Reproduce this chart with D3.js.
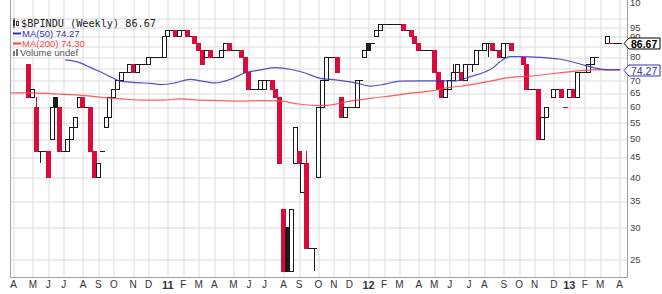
<!DOCTYPE html>
<html>
<head>
<meta charset="utf-8">
<script src="https://cdnjs.cloudflare.com/ajax/libs/d3/7.8.5/d3.min.js"></script>
<style>
  body { margin: 0; background: #fff; }
  svg { display: block; }
  .tick text { font-family: "Liberation Sans", Arial, sans-serif; }
</style>
</head>
<body>
<div id="chart"></div>
<script>
// weekly bars, index 0 = first week of Apr 2010
var opens = [
  null,null,null,null,76.67,63.33,60,46.67,46.67,46.67,
  50,63.33,60,46.67,46.67,50,53.33,60,63.33,60,
  60,46.67,40,46.67,53.33,56.67,63.33,66.67,70,73.33,
  73.33,76.67,73.33,76.67,76.67,76.67,80,80,80,80,
  90,93.33,93.33,90,93.33,93.33,90,90,86.67,83.33,
  80,83.33,80,80,80,83.33,86.67,83.33,83.33,83.33,
  80,73.33,66.67,66.67,66.67,66.67,70,70,66.67,63.33,
  33.33,30,23.33,43.33,46.67,36.67,43.33,26.67,26.67,40,
  60,70,80,80,80,63.33,56.67,60,60,60,
  70,80,86.67,86.67,90,93.33,96.67,96.67,96.67,96.67,
  96.67,96.67,93.33,93.33,90,86.67,83.33,83.33,83.33,83.33,
  73.33,70,63.33,66.67,70,73.33,73.33,70,76.67,76.67,
  76.67,83.33,83.33,86.67,86.67,83.33,83.33,80,86.67,86.67,
  null,null,80,76.67,66.67,66.67,66.67,50,56.67,null,
  63.33,66.67,66.67,60,63.33,66.67,63.33,73.33,73.33,73.33,
  76.67,80,null,null,86.67,86.67,86.67,86.67
];
var highs = [
  null,null,null,null,76.67,66.67,63.33,46.67,46.67,46.67,
  60,63.33,60,46.67,50,53.33,56.67,63.33,63.33,60,
  60,46.67,43.33,46.67,56.67,63.33,66.67,70,73.33,73.33,
  76.67,76.67,76.67,76.67,76.67,80,80,80,80,90,
  93.33,93.33,93.33,93.33,93.33,93.33,90,90,86.67,83.33,
  83.33,83.33,80,80,83.33,86.67,86.67,83.33,83.33,83.33,
  80,73.33,66.67,66.67,70,70,70,70,66.67,63.33,
  33.33,30,33.33,53.33,46.67,43.33,46.67,26.67,26.67,60,
  70,80,80,80,80,63.33,60,60,60,70,
  70,83.33,86.67,86.67,93.33,96.67,96.67,96.67,96.67,96.67,
  96.67,96.67,93.33,93.33,90,86.67,83.33,83.33,83.33,83.33,
  73.33,70,66.67,70,76.67,76.67,73.33,76.67,76.67,76.67,
  83.33,83.33,86.67,86.67,86.67,83.33,83.33,86.67,86.67,86.67,
  null,null,80,76.67,66.67,66.67,66.67,56.67,60,null,
  66.67,66.67,66.67,60,66.67,66.67,73.33,73.33,73.33,76.67,
  80,80,null,null,90,86.67,86.67,86.67
];
var lows = [
  null,null,null,null,63.33,63.33,46.67,43.33,46.67,40,
  50,60,46.67,46.67,46.67,50,53.33,60,60,60,
  46.67,40,40,46.67,53.33,56.67,63.33,66.67,70,73.33,
  73.33,73.33,73.33,76.67,76.67,76.67,80,80,80,80,
  90,93.33,90,90,93.33,90,90,86.67,83.33,76.67,
  80,80,80,80,80,83.33,83.33,83.33,83.33,80,
  73.33,66.67,66.67,66.67,66.67,66.67,70,66.67,63.33,43.33,
  23.33,23.33,23.33,43.33,43.33,36.67,26.67,26.67,23.33,40,
  60,70,80,80,73.33,56.67,56.67,60,60,60,
  70,80,83.33,86.67,90,93.33,96.67,96.67,96.67,96.67,
  96.67,93.33,93.33,90,86.67,83.33,83.33,83.33,83.33,73.33,
  66.67,63.33,63.33,66.67,70,73.33,70,70,76.67,73.33,
  76.67,83.33,83.33,80,83.33,83.33,80,80,86.67,83.33,
  null,null,76.67,66.67,66.67,66.67,50,50,56.67,null,
  63.33,66.67,63.33,60,63.33,63.33,63.33,73.33,73.33,73.33,
  76.67,80,null,null,86.67,86.67,86.67,86.67
];
var closes = [
  null,null,null,null,63.33,66.67,46.67,46.67,46.67,40,
  60,60,46.67,46.67,50,53.33,56.67,63.33,60,60,
  46.67,40,43.33,46.67,56.67,63.33,66.67,70,73.33,73.33,
  76.67,73.33,76.67,76.67,76.67,80,80,80,80,90,
  93.33,93.33,90,93.33,93.33,90,90,86.67,83.33,76.67,
  83.33,80,80,80,83.33,86.67,83.33,83.33,83.33,80,
  73.33,66.67,66.67,66.67,70,70,70,66.67,63.33,43.33,
  23.33,23.33,33.33,53.33,43.33,43.33,26.67,26.67,26.67,60,
  70,80,80,80,73.33,56.67,60,60,60,70,
  70,83.33,83.33,86.67,93.33,96.67,96.67,96.67,96.67,96.67,
  96.67,93.33,93.33,90,86.67,83.33,83.33,83.33,83.33,73.33,
  66.67,63.33,66.67,70,73.33,76.67,70,76.67,76.67,76.67,
  83.33,83.33,86.67,86.67,83.33,83.33,80,86.67,86.67,83.33,
  null,null,76.67,66.67,66.67,66.67,50,56.67,60,null,
  66.67,66.67,63.33,60,66.67,63.33,73.33,73.33,73.33,76.67,
  80,80,null,null,90,86.67,86.67,86.67
];

// moving averages: [week index, value]
var ma50 = [[13.5,78.6],[17.4,77.3],[20,75.3],[22.6,73.4],[25.2,71.4],[27.8,69.6],[30.4,69.2],
  [33,68.9],[35.6,68.7],[38.2,68.2],[42,68.9],[45.9,70.3],[48.5,69.7],[52.4,68.9],[56.3,70.3],
  [60.2,73],[64.1,74.2],[67.9,75.2],[71.8,74.5],[75.7,72.9],[79.6,70.7],[82.2,70.3],[88.7,68.9],
  [92.6,67.6],[96.4,68.4],[100.3,69.6],[105.5,69.7],[110.7,69.7],[114.6,69.7],[118.5,71.4],
  [122.4,73.4],[124.5,75.3],[126.2,77.8],[128.8,80.1],[131.4,80.1],[136.6,79.8],[141.8,78.9],
  [146.9,76.8],[150.9,75],[154.7,74.2],[157.3,74.27]];
var ma200 = [[-0.5,65],[4,65],[12,64.6],[17,64.2],[23,63.4],[28,62.8],[33,62.4],[39,62.4],
  [43,62.8],[48,62.4],[54,62.2],[59,62],[64,62.2],[69,62.1],[74,61],[80,60.4],[82,60.6],
  [87,61.9],[93,63.1],[98,63.9],[103,64.9],[108,65.7],[113,67.1],[118,68],[124,69.7],
  [129,71.1],[134,71.6],[139,72.5],[144,73.4],[150,74.2],[157.3,74.3]];

var monthWeeks = [0,5,9,13,18,22,26,31,35,40,44,48,52,57,61,65,70,74,79,83,87,
  92,96,100,105,109,113,118,122,127,131,135,140,144,148,152,157];
var monthLabels = ["A","M","J","J","A","S","O","N","D","11","F","M","A","M","J","J","A","S","O","N","D",
  "12","F","M","A","M","J","J","A","S","O","N","D","13","F","M","A"];

var yTicks = [25,30,35,40,45,50,55,60,65,70,75,80,85,90,95,100];
var yTickLabels = ["25","30","35","40","45","50","55","60","65","70","","80","","90","95",""];

var lastClose = 86.67, lastMa50 = 74.27, lastMa200 = 74.30;

var W = 662, H = 294;
var plotL = 10, plotR = 627, plotB = 277;
var RED = "#dc0a3c", BLACK = "#1a1a1a";
var BLUE = "#3434b4", MARED = "#ff4040";

var svg = d3.select("#chart").append("svg").attr("width", W).attr("height", H);

var x = d3.scaleLinear().domain([0, 157]).range([13, 619]);
var y = d3.scaleLog().domain([25, 95]).range([259, 27]);

// grid
svg.append("g")
  .attr("transform", "translate(" + plotL + ",0)")
  .call(d3.axisRight(y).tickValues(yTicks).tickSize(plotR - plotL).tickFormat(""))
  .call(function(g) {
    g.select(".domain").remove();
    g.selectAll(".tick line").attr("stroke", "#dcdcdc")
      .attr("transform", function(d) { return "translate(0," + (Math.round(y(d)) + 0.5 - y(d)) + ")"; });
  });
svg.append("g")
  .attr("transform", "translate(0," + plotB + ")")
  .call(d3.axisBottom(x).tickValues(monthWeeks).tickSize(-plotB).tickFormat(""))
  .call(function(g) {
    g.select(".domain").remove();
    g.selectAll(".tick line").attr("stroke", "#dcdcdc")
      .attr("transform", function(d) { return "translate(" + (Math.round(x(d)) + 0.5 - x(d)) + ",0)"; });
  });

// frame
svg.append("path")
  .attr("d", "M" + (plotL + 0.5) + ",0V" + (plotB + 0.5) + "H" + (plotR + 0.5) + "V0")
  .attr("fill", "none").attr("stroke", "#a0a0a0");

// candles
var bars = [];
var prev = null;
opens.forEach(function(o, i) {
  if (o === null) return;
  var c = closes[i];
  var color = (prev !== null && c < prev) || (prev === null && c < o) ? RED : BLACK;
  bars.push({i: i, o: o, h: highs[i], l: lows[i], c: c, color: color, filled: c < o});
  prev = c;
});

var g = svg.append("g");
var cand = g.selectAll("g.bar").data(bars).enter().append("g").attr("class", "bar");
cand.append("line")
  .attr("x1", function(d) { return Math.round(x(d.i)) + 0.5; })
  .attr("x2", function(d) { return Math.round(x(d.i)) + 0.5; })
  .attr("y1", function(d) { return Math.round(y(d.h)); })
  .attr("y2", function(d) { return Math.round(y(d.l)); })
  .attr("stroke", function(d) { return d.color; });
cand.filter(function(d) { return d.o === d.c; }).append("line")
  .attr("x1", function(d) { return Math.round(x(d.i)) - 2; })
  .attr("x2", function(d) { return Math.round(x(d.i)) + 3; })
  .attr("y1", function(d) { return Math.round(y(d.o)) + 0.5; })
  .attr("y2", function(d) { return Math.round(y(d.o)) + 0.5; })
  .attr("stroke", function(d) { return d.color; });
cand.filter(function(d) { return d.o !== d.c; }).append("rect")
  .attr("x", function(d) { return Math.round(x(d.i)) - 1.5; })
  .attr("width", 4)
  .attr("y", function(d) { return Math.round(y(Math.max(d.o, d.c))) + 0.5; })
  .attr("height", function(d) { return Math.round(y(Math.min(d.o, d.c))) - Math.round(y(Math.max(d.o, d.c))); })
  .attr("fill", function(d) { return d.filled ? d.color : "#fff"; })
  .attr("stroke", function(d) { return d.color; });

// moving averages
var line = d3.line().x(function(d) { return x(d[0]); }).y(function(d) { return y(d[1]); })
  .curve(d3.curveMonotoneX);
svg.append("path").datum(ma200).attr("d", line).attr("fill", "none")
  .attr("stroke", MARED).attr("stroke-width", 1.2).attr("stroke-opacity", 0.85);
svg.append("path").datum(ma50).attr("d", line).attr("fill", "none")
  .attr("stroke", BLUE).attr("stroke-width", 1.2).attr("stroke-opacity", 0.85);

// right axis labels
svg.append("g")
  .attr("transform", "translate(" + plotR + ",0)")
  .call(d3.axisRight(y).tickValues(yTicks).tickSize(0).tickPadding(3)
    .tickFormat(function(d, i) { return yTickLabels[i]; }))
  .call(function(g) {
    g.select(".domain").remove();
    g.selectAll("text").attr("fill", "#444").style("font-size", "9.5px");
  });

// bottom month labels
svg.append("g")
  .attr("transform", "translate(0," + plotB + ")")
  .call(d3.axisBottom(x).tickValues(monthWeeks).tickSize(0).tickPadding(4)
    .tickFormat(function(d, i) { return monthLabels[i]; }))
  .call(function(g) {
    g.select(".domain").remove();
    g.selectAll("text").attr("fill", "#333")
      .style("font-weight", function(d, i) { return /\d/.test(monthLabels[i]) ? "bold" : "normal"; })
      .style("font-size", function(d, i) { return /\d/.test(monthLabels[i]) ? "11px" : "10px"; });
  });

// upper panel remnant label
svg.append("text").attr("x", 630).attr("y", 6).text("10")
  .style("font-family", "Liberation Sans, Arial, sans-serif").style("font-size", "9.5px").attr("fill", "#444");

// value flags on the axis
function flag(v, txt, color, bold) {
  var yy = Math.round(y(v)) + 0.5;
  svg.append("path")
    .attr("d", "M" + 624 + "," + yy + "L629," + (yy - 5.5) + "H660V" + (yy + 5.5) + "H629Z")
    .attr("fill", "#fff").attr("stroke", color);
  svg.append("text").attr("x", 631).attr("y", yy + 4).text(txt)
    .style("font-family", "Liberation Sans, Arial, sans-serif").style("font-size", "10.5px")
    .style("font-weight", bold ? "bold" : "normal").attr("fill", color);
}
flag(lastClose, lastClose.toFixed(2), "#000", true);
flag(lastMa50, lastMa50.toFixed(2), BLUE, false);

// legend
var lg = svg.append("g").style("font-family", "Liberation Sans, Arial, sans-serif").style("font-size", "9.5px");
lg.append("rect").attr("x", 13).attr("y", 20).attr("width", 2).attr("height", 6).attr("fill", "#333");
lg.append("line").attr("x1", 14).attr("x2", 14).attr("y1", 18).attr("y2", 28).attr("stroke", "#333");
lg.append("rect").attr("x", 16.5).attr("y", 21.5).attr("width", 2).attr("height", 4).attr("fill", "#fff").attr("stroke", "#333");
lg.append("text").attr("x", 21).attr("y", 27).text("$BPINDU (Weekly) " + lastClose.toFixed(2))
  .style("font-family", "DejaVu Sans Mono, monospace").style("font-size", "10.2px").attr("fill", "#222");
lg.append("line").attr("x1", 13).attr("x2", 21).attr("y1", 33.5).attr("y2", 33.5).attr("stroke", BLUE).attr("stroke-width", 2);
lg.append("text").attr("x", 22).attr("y", 37).text("MA(50) " + lastMa50.toFixed(2)).attr("fill", BLUE);
lg.append("line").attr("x1", 13).attr("x2", 21).attr("y1", 43.5).attr("y2", 43.5).attr("stroke", MARED).attr("stroke-width", 2);
lg.append("text").attr("x", 22).attr("y", 47).text("MA(200) " + lastMa200.toFixed(2)).attr("fill", MARED);
lg.append("rect").attr("x", 13).attr("y", 51).attr("width", 2).attr("height", 5).attr("fill", "#777");
lg.append("rect").attr("x", 16).attr("y", 49).attr("width", 2).attr("height", 7).attr("fill", "#777");
lg.append("text").attr("x", 20).attr("y", 56).text("Volume undef").attr("fill", "#555");
</script>
</body>
</html>
